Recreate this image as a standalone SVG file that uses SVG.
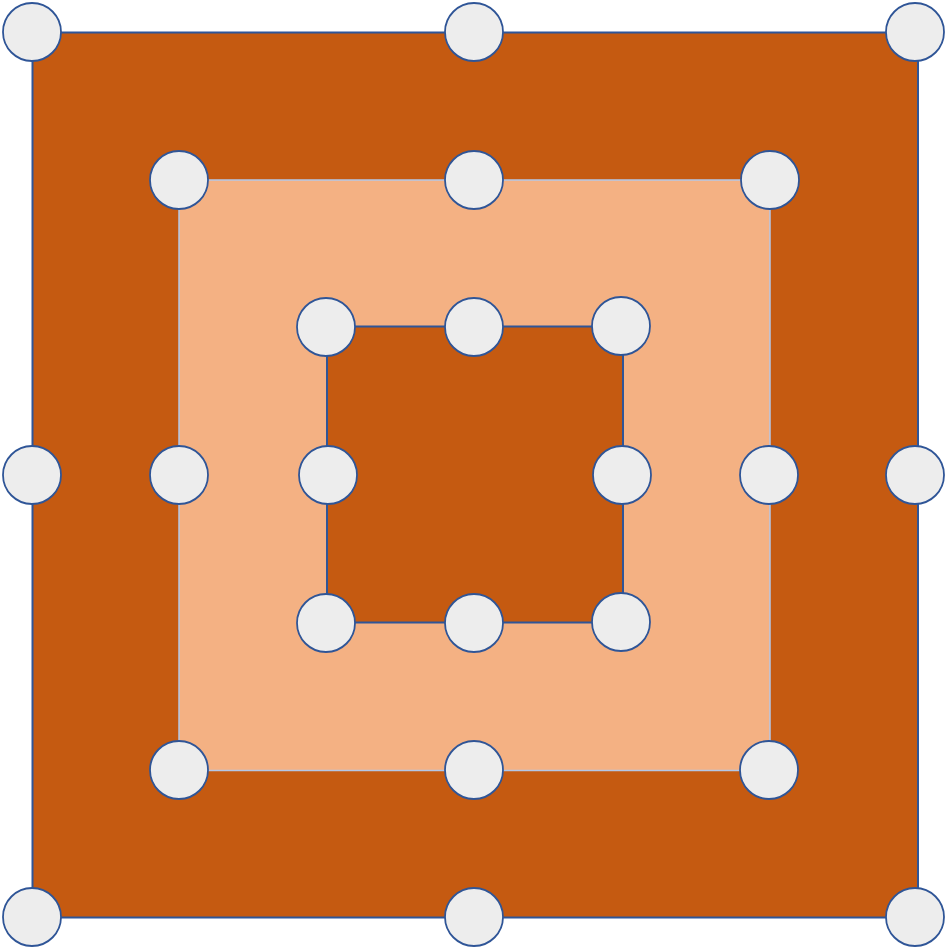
<svg xmlns="http://www.w3.org/2000/svg" width="945" height="947" viewBox="0 0 945 947">
<style>
.n{fill:#EDEDED;stroke:#2F5597;stroke-width:1.8}
.dark{fill:#C55A11;stroke:#2F5597;stroke-width:2}
.light{fill:#F4B183;stroke:#B4C7E7;stroke-width:1.5}
</style>
<rect width="945" height="947" fill="#FFFFFF"/>
<g id="connectors">
<rect class="dark" x="32.5" y="32.5" width="885.5" height="885"/>
<rect class="light" x="179" y="180" width="591" height="590.5"/>
<rect class="dark" x="327" y="326.5" width="296" height="296"/>
</g>
<g id="n1"><circle class="n" cx="32" cy="32" r="29"/></g>
<g id="n2"><circle class="n" cx="474" cy="32" r="29"/></g>
<g id="n3"><circle class="n" cx="915" cy="32" r="29"/></g>
<g id="n4"><circle class="n" cx="32" cy="475" r="29"/></g>
<g id="n5"><circle class="n" cx="915" cy="475" r="29"/></g>
<g id="n6"><circle class="n" cx="32" cy="917" r="29"/></g>
<g id="n7"><circle class="n" cx="474" cy="917" r="29"/></g>
<g id="n8"><circle class="n" cx="915" cy="917" r="29"/></g>
<g id="n9"><circle class="n" cx="179" cy="180" r="29"/></g>
<g id="n10"><circle class="n" cx="474" cy="180" r="29"/></g>
<g id="n11"><circle class="n" cx="770" cy="180" r="29"/></g>
<g id="n12"><circle class="n" cx="179" cy="475" r="29"/></g>
<g id="n13"><circle class="n" cx="769" cy="475" r="29"/></g>
<g id="n14"><circle class="n" cx="179" cy="770" r="29"/></g>
<g id="n15"><circle class="n" cx="474" cy="770" r="29"/></g>
<g id="n16"><circle class="n" cx="769" cy="770" r="29"/></g>
<g id="n17"><circle class="n" cx="326" cy="327" r="29"/></g>
<g id="n18"><circle class="n" cx="474" cy="327" r="29"/></g>
<g id="n19"><circle class="n" cx="621" cy="326" r="29"/></g>
<g id="n20"><circle class="n" cx="328" cy="475" r="29"/></g>
<g id="n21"><circle class="n" cx="622" cy="475" r="29"/></g>
<g id="n22"><circle class="n" cx="326" cy="623" r="29"/></g>
<g id="n23"><circle class="n" cx="474" cy="623" r="29"/></g>
<g id="n24"><circle class="n" cx="621" cy="622" r="29"/></g>
</svg>
